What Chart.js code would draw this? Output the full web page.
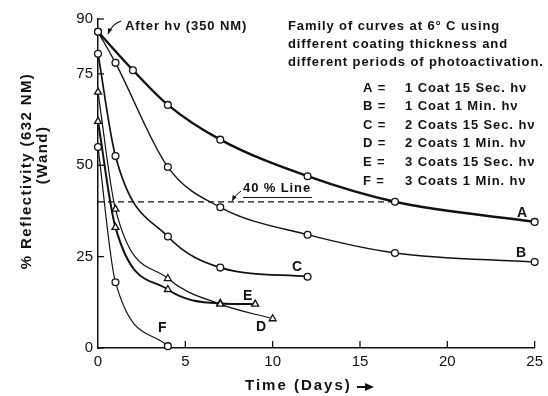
<!DOCTYPE html>
<html>
<head>
<meta charset="utf-8">
<script src="https://cdn.jsdelivr.net/npm/chart.js@4/dist/chart.umd.min.js"></script>
<style>
  html, body { margin: 0; padding: 0; background: #fff; }
  #wrap { width: 548px; height: 396px; }
</style>
</head>
<body>
<div id="wrap"><canvas id="chart" width="548" height="396"></canvas></div>
<script>
// values (days vs % reflectivity)
const daysA = [0, 2, 4, 7, 12, 17, 25];
const reflA = [86.5, 76, 66.5, 57, 47, 40, 34.5];
const daysB = [0, 1, 4, 7, 12, 17, 25];
const reflB = [86.5, 78, 49.5, 38.5, 31, 26, 23.5];
const daysC = [0, 1, 4, 7, 12];
const reflC = [80.5, 52.5, 30.5, 22, 19.5];
const daysD = [0, 1, 4, 7, 10];
const reflD = [70, 38, 19, 12, 8];
const daysE = [0, 1, 4, 7, 9];
const reflE = [62, 33, 16, 12.2, 12];
const daysF = [0, 1, 4];
const reflF = [55, 18, 0.5];
const line40Days = [0, 17];
const line40Refl = [40, 40];

const xTicks = [0, 5, 10, 15, 20, 25];
const yTicks = [0, 25, 50, 75, 90];

const legendLines = [
    ['A =', '1 Coat 15 Sec. h\u03bd'],
    ['B =', '1 Coat 1 Min. h\u03bd'],
    ['C =', '2 Coats 15 Sec. h\u03bd'],
    ['D =', '2 Coats 1 Min. h\u03bd'],
    ['E =', '3 Coats 15 Sec. h\u03bd'],
    ['F =', '3 Coats 1 Min. h\u03bd']
];

const INK = '#111';
const FONT = '"Liberation Sans", Arial, Helvetica, sans-serif';

function pts(xs, ys) {
    return xs.map((x, i) => ({ x: x, y: ys[i] }));
}

function curve(label, xs, ys, width, shape) {
    return {
        label: label,
        data: pts(xs, ys),
        borderColor: INK,
        borderWidth: width,
        backgroundColor: '#fff',
        pointStyle: shape,
        pointRadius: shape === 'triangle' ? 4 : 3.4,
        pointBorderWidth: 1.3,
        pointBorderColor: INK,
        pointBackgroundColor: '#fff',
        cubicInterpolationMode: 'monotone',
        fill: false,
        clip: false
    };
}

function arrow(ctx, x0, y0, cx, cy, x1, y1) {
    ctx.beginPath();
    ctx.moveTo(x0, y0);
    ctx.quadraticCurveTo(cx, cy, x1, y1);
    ctx.stroke();
    const a = Math.atan2(y1 - cy, x1 - cx);
    ctx.beginPath();
    ctx.moveTo(x1, y1);
    ctx.lineTo(x1 - 6 * Math.cos(a - 0.4), y1 - 6 * Math.sin(a - 0.4));
    ctx.lineTo(x1 - 6 * Math.cos(a + 0.4), y1 - 6 * Math.sin(a + 0.4));
    ctx.closePath();
    ctx.fill();
}

// inward tick marks + all the text labels on the figure
const decorations = {
    id: 'decorations',
    afterDatasetsDraw(chart) {
        const ctx = chart.ctx;
        const xs = chart.scales.x, ys = chart.scales.y;
        const area = chart.chartArea;
        ctx.save();
        ctx.strokeStyle = INK;
        ctx.fillStyle = INK;
        ctx.lineWidth = 1.3;

        yTicks.forEach(v => {
            const py = ys.getPixelForValue(v);
            ctx.beginPath();
            ctx.moveTo(area.left, py);
            ctx.lineTo(area.left + 6, py);
            ctx.stroke();
        });
        xTicks.slice(1).forEach(v => {
            const px = xs.getPixelForValue(v);
            ctx.beginPath();
            ctx.moveTo(px, area.bottom);
            ctx.lineTo(px, area.bottom - 7);
            ctx.stroke();
        });

        // axis titles
        ctx.font = 'bold 15px ' + FONT;
        ctx.letterSpacing = '2px';
        ctx.textBaseline = 'middle';
        ctx.textAlign = 'left';
        ctx.fillText('Time (Days)', 245, 386);
        ctx.lineWidth = 2;
        ctx.beginPath();
        ctx.moveTo(357, 387);
        ctx.lineTo(368, 387);
        ctx.stroke();
        ctx.beginPath();
        ctx.moveTo(374, 387);
        ctx.lineTo(365, 383);
        ctx.lineTo(365, 391);
        ctx.closePath();
        ctx.fill();

        ctx.font = 'bold 15px ' + FONT;
        ctx.letterSpacing = '1.4px';
        ctx.save();
        ctx.translate(27, 171);
        ctx.rotate(-Math.PI / 2);
        ctx.textAlign = 'center';
        ctx.fillText('% Reflectivity (632 NM)', 0, 0);
        ctx.restore();
        ctx.save();
        ctx.translate(43, 155);
        ctx.rotate(-Math.PI / 2);
        ctx.textAlign = 'center';
        ctx.fillText('(Wand)', 0, 0);
        ctx.restore();

        // annotations
        ctx.font = 'bold 13px ' + FONT;
        ctx.letterSpacing = '0.9px';
        ctx.textAlign = 'left';
        ctx.fillText('After h\u03bd (350 NM)', 125, 26);
        ctx.lineWidth = 1.3;
        arrow(ctx, 121, 21, 112, 24, 108, 34);

        ctx.fillText('Family of curves at 6\u00b0 C using', 288, 26);
        ctx.fillText('different coating thickness and', 288, 44);
        ctx.fillText('different periods of photoactivation.', 288, 62);

        legendLines.forEach((row, i) => {
            const py = 88 + i * 18.6;
            ctx.fillText(row[0], 363, py);
            ctx.fillText(row[1], 405, py);
        });

        ctx.fillText('40 % Line', 243, 188);
        ctx.lineWidth = 1;
        ctx.beginPath();
        ctx.moveTo(243, 197.5);
        ctx.lineTo(312, 197.5);
        ctx.stroke();
        arrow(ctx, 241, 191, 236, 194, 232, 201);

        ctx.font = 'bold 14px ' + FONT;
        ctx.letterSpacing = '0px';
        ctx.fillText('A', 517, 213);
        ctx.fillText('B', 516, 253);
        ctx.fillText('C', 292, 267);
        ctx.fillText('D', 256, 327);
        ctx.fillText('E', 243, 296);
        ctx.fillText('F', 158, 328);
        ctx.restore();
    }
};

new Chart(document.getElementById('chart'), {
    type: 'line',
    data: {
        datasets: [
            curve('A', daysA, reflA, 2.4, 'circle'),
            curve('B', daysB, reflB, 1.4, 'circle'),
            curve('C', daysC, reflC, 1.7, 'circle'),
            curve('D', daysD, reflD, 1.2, 'triangle'),
            curve('E', daysE, reflE, 2, 'triangle'),
            curve('F', daysF, reflF, 1.2, 'circle'),
            {
                label: '40 % Line',
                data: pts(line40Days, line40Refl),
                borderColor: INK,
                borderWidth: 1.2,
                borderDash: [6, 4],
                pointRadius: 0,
                fill: false
            }
        ]
    },
    options: {
        responsive: false,
        animation: false,
        layout: { padding: { left: 0, top: 19, right: 7, bottom: 0 } },
        plugins: {
            legend: { display: false },
            tooltip: { enabled: false }
        },
        scales: {
            x: {
                type: 'linear',
                min: 0,
                max: 25,
                afterBuildTicks: s => { s.ticks = xTicks.map(v => ({ value: v })); },
                afterFit: s => { s.height = 48; },
                ticks: { color: INK, font: { family: FONT, size: 15 }, padding: 5, maxRotation: 0 },
                grid: { display: false, drawTicks: false },
                border: { display: true, color: INK, width: 1.5 }
            },
            y: {
                type: 'linear',
                min: 0,
                max: 90,
                afterBuildTicks: s => { s.ticks = yTicks.map(v => ({ value: v })); },
                afterFit: s => { s.width = 98; },
                ticks: { color: INK, font: { family: FONT, size: 15 }, padding: 5 },
                grid: { display: false, drawTicks: false },
                border: { display: true, color: INK, width: 1.5 }
            }
        }
    },
    plugins: [decorations]
});
</script>
</body>
</html>
